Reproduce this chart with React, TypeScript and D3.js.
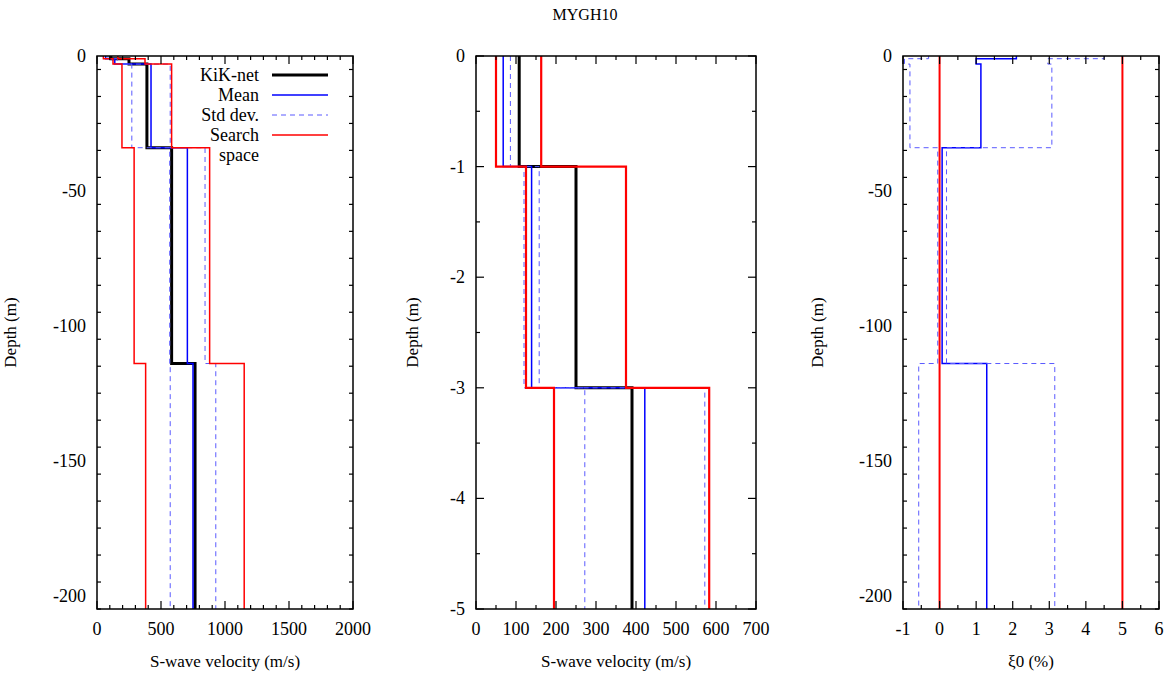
import React, { useEffect, useRef } from "react";
import * as d3 from "d3";

// layer tops (m), last layer is the half-space down to the plot bottom
const layerTops = [0, -1, -3, -34, -114];
const depthBottom = -205;

// S-wave velocity (m/s)
const vsKiknet = [108, 250, 390, 583, 766];
const vsMean = [68, 139, 422, 706, 750];
const vsStd = [18, 19, 150, 138, 178];
const vsMin = [50, 125, 195, 290, 380];
const vsMax = [163, 375, 583, 880, 1150];

// damping (%)
const dampMean = [2.1, 1.0, 1.13, 0.07, 1.29];
const dampStd = [2.4, 1.96, 1.94, 0.12, 1.86];
const dampMin = [0, 0, 0, 0, 0];
const dampMax = [5, 5, 5, 5, 5];

// ticks
const vsTicksWide = [0, 500, 1000, 1500, 2000];
const vsTicksNarrow = [0, 100, 200, 300, 400, 500, 600, 700];
const dampTicks = [-1, 0, 1, 2, 3, 4, 5, 6];
const depthTicksWide = [0, -50, -100, -150, -200];
const depthTicksNarrow = [0, -1, -2, -3, -4, -5];

const legendItems = ["KiK-net", "Mean", "Std dev.", "Search"];

const FONT = "'Liberation Serif', 'Times New Roman', 'DejaVu Serif', serif";

const App = () => {
    const svgRef = useRef(null);

    useEffect(() => {
        document.body.style.margin = "0";
        const svg = d3.select(svgRef.current);
        svg.selectAll("*").remove();

        const top = 56, bottom = 609;

        // turn per-layer values into a step profile
        const steps = (vals, yBottom) => {
            const pts = [];
            vals.forEach((v, i) => {
                const z0 = layerTops[i];
                const z1 = i < vals.length - 1 ? layerTops[i + 1] : yBottom;
                pts.push([v, z0]);
                pts.push([v, z1]);
            });
            return pts;
        };

        const panels = [
            { id: "a", x0: 97, x1: 353, xDom: [0, 2000], yDom: [depthBottom, 0], xTicks: vsTicksWide, xMinor: 100, yTicks: depthTicksWide, yMinor: 10, xTitle: "S-wave velocity (m/s)", kind: "vs", redW: 1.5, labOff: 81 },
            { id: "b", x0: 476, x1: 756, xDom: [0, 700], yDom: [-5, 0], xTicks: vsTicksNarrow, xMinor: 50, yTicks: depthTicksNarrow, yMinor: 0.5, xTitle: "S-wave velocity (m/s)", kind: "vs", redW: 2.2, labOff: 58 },
            { id: "c", x0: 903, x1: 1159, xDom: [-1, 6], yDom: [depthBottom, 0], xTicks: dampTicks, xMinor: 0.5, yTicks: depthTicksWide, yMinor: 10, xTitle: "ξ0 (%)", kind: "damp", redW: 2, labOff: 80 },
        ];

        // title
        svg.append("text")
            .attr("x", 585).attr("y", 20)
            .attr("text-anchor", "middle")
            .attr("font-family", FONT).attr("font-size", 16)
            .text("MYGH10");

        panels.forEach(p => {
            const x = d3.scaleLinear().domain(p.xDom).range([p.x0, p.x1]);
            const y = d3.scaleLinear().domain(p.yDom).range([bottom, top]);
            const g = svg.append("g");

            g.append("clipPath").attr("id", "clip-" + p.id)
                .append("rect").attr("x", p.x0).attr("y", top)
                .attr("width", p.x1 - p.x0).attr("height", bottom - top);

            const line = d3.line().x(d => x(d[0])).y(d => y(d[1]));
            const plot = g.append("g").attr("clip-path", `url(#clip-${p.id})`);
            const yB = p.yDom[0];

            const draw = (vals, color, w, dash) => {
                plot.append("path")
                    .datum(steps(vals, yB))
                    .attr("fill", "none")
                    .attr("stroke", color)
                    .attr("stroke-width", w)
                    .attr("stroke-dasharray", dash || null)
                    .attr("d", line);
            };

            if (p.kind === "vs") {
                draw(vsKiknet, "#000", 3);
                draw(vsMean, "#0000ff", 1.5);
                draw(vsMean.map((m, i) => m - vsStd[i]), "#5a5aff", 1, "5,4");
                draw(vsMean.map((m, i) => m + vsStd[i]), "#5a5aff", 1, "5,4");
                draw(vsMin, "#ff0000", p.redW);
                draw(vsMax, "#ff0000", p.redW);
            } else {
                draw(dampMean, "#0000ff", 1.5);
                draw(dampMean.map((m, i) => m - dampStd[i]), "#5a5aff", 1, "5,4");
                draw(dampMean.map((m, i) => m + dampStd[i]), "#5a5aff", 1, "5,4");
                draw(dampMin, "#ff0000", p.redW);
                draw(dampMax, "#ff0000", p.redW);
            }

            // ticks (inward, mirrored)
            const tk = g.append("g").attr("stroke", "#000").attr("stroke-width", 1.2);
            const xMinorVals = d3.range(p.xDom[0], p.xDom[1] + 1e-9, p.xMinor);
            xMinorVals.forEach(v => {
                const major = p.xTicks.some(t => Math.abs(t - v) < 1e-9);
                const len = major ? 8 : 4;
                tk.append("line").attr("x1", x(v)).attr("x2", x(v)).attr("y1", bottom).attr("y2", bottom - len);
                tk.append("line").attr("x1", x(v)).attr("x2", x(v)).attr("y1", top).attr("y2", top + len);
            });
            const yMinorVals = d3.range(p.yDom[0], p.yDom[1] + 1e-9, p.yMinor);
            yMinorVals.forEach(v => {
                const major = p.yTicks.some(t => Math.abs(t - v) < 1e-9);
                const len = major ? 8 : 4;
                tk.append("line").attr("x1", p.x0).attr("x2", p.x0 + len).attr("y1", y(v)).attr("y2", y(v));
                tk.append("line").attr("x1", p.x1).attr("x2", p.x1 - len).attr("y1", y(v)).attr("y2", y(v));
            });

            // frame
            g.append("rect")
                .attr("x", p.x0).attr("y", top)
                .attr("width", p.x1 - p.x0).attr("height", bottom - top)
                .attr("fill", "none").attr("stroke", "#000").attr("stroke-width", 1.5);

            // tick labels
            p.xTicks.forEach(t => {
                g.append("text")
                    .attr("x", x(t)).attr("y", bottom + 26)
                    .attr("text-anchor", "middle")
                    .attr("font-family", FONT).attr("font-size", 18)
                    .text(t);
            });
            p.yTicks.forEach(t => {
                g.append("text")
                    .attr("x", p.x0 - 11).attr("y", y(t) + 6)
                    .attr("text-anchor", "end")
                    .attr("font-family", FONT).attr("font-size", 18)
                    .text(t);
            });

            // axis titles
            g.append("text")
                .attr("x", (p.x0 + p.x1) / 2).attr("y", 667)
                .attr("text-anchor", "middle")
                .attr("font-family", FONT).attr("font-size", 17)
                .text(p.xTitle);
            g.append("text")
                .attr("transform", `translate(${p.x0 - p.labOff},${(top + bottom) / 2}) rotate(-90)`)
                .attr("text-anchor", "middle")
                .attr("font-family", FONT).attr("font-size", 17)
                .text("Depth (m)");
        });

        // legend
        const lg = svg.append("g").attr("font-family", FONT).attr("font-size", 18);
        const legendStyle = [
            { color: "#000", w: 3, dash: null },
            { color: "#0000ff", w: 1.5, dash: null },
            { color: "#5a5aff", w: 1, dash: "5,4" },
            { color: "#ff0000", w: 1.5, dash: null },
        ];
        legendItems.forEach((name, i) => {
            const ly = 75 + i * 20;
            lg.append("text").attr("x", 259).attr("y", ly + 6).attr("text-anchor", "end").text(name);
            lg.append("line")
                .attr("x1", 272).attr("x2", 328).attr("y1", ly).attr("y2", ly)
                .attr("stroke", legendStyle[i].color)
                .attr("stroke-width", legendStyle[i].w)
                .attr("stroke-dasharray", legendStyle[i].dash);
        });
        lg.append("text").attr("x", 259).attr("y", 161).attr("text-anchor", "end").text("space");
    }, []);

    return <svg ref={svgRef} width={1171} height={675} style={{ display: "block", background: "#fff" }} />;
};

export default App;
